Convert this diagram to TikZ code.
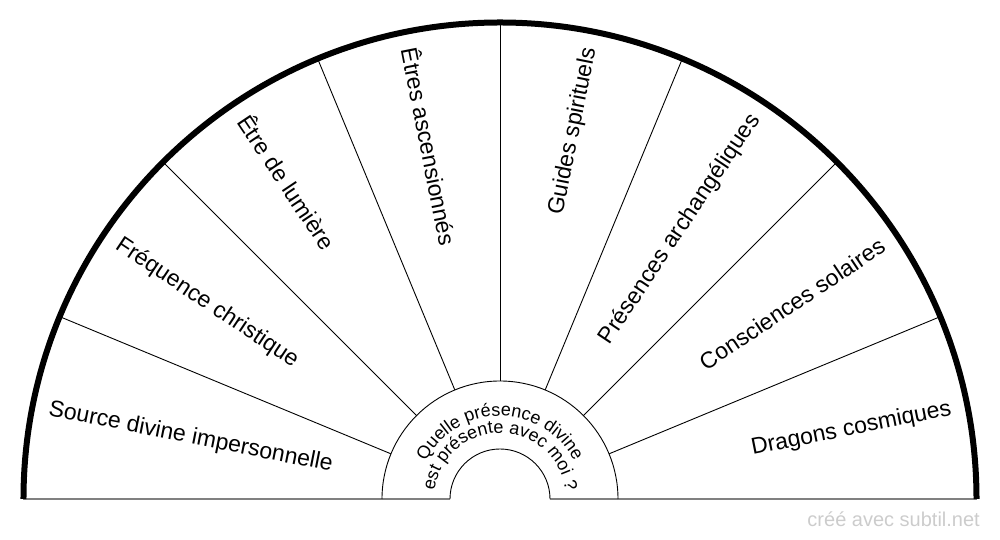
\documentclass[tikz,border=0pt]{standalone}
\usepackage{fontspec}
\setmainfont{Liberation Sans}
\usetikzlibrary{decorations.text}
\newcommand{\questfont}{\fontsize{18}{21}\selectfont}
\tikzset{x=1pt,y=1pt}
\tikzset{rim/.style={line width=6pt},
  spoke/.style={line width=0.9pt},
  sectortext/.style={font=\fontsize{23}{27}\selectfont, inner sep=0pt}}

\begin{document}
\begin{tikzpicture}
  \useasboundingbox (-500,-41) rectangle (500,499);
  \draw[black!50, line width=2pt] (-476.5,0)--(-50,0);
  \draw[black!50, line width=2pt] (50,0)--(476.5,0);
  \draw[rim] (180:476.5) arc[start angle=180, end angle=0, radius=476.5];
  \draw[spoke] (180:118) arc[start angle=180, end angle=0, radius=118];
  \draw[spoke] (180:50) arc[start angle=180, end angle=0, radius=50];

  \foreach \a in {1,...,7}{
               \draw[spoke] ({\a*22.5}:118)--({\a*22.5}:476.5);
};

  % left half, read from the rim inwards
  \foreach \t [count=\i] in {Source divine impersonnelle, Fréquence christique, Être de lumière, Êtres ascensionnés}{
               \node[sectortext, anchor=west, rotate={11.25-22.5*\i}] (left\i) at ({191.25-22.5*\i}:460) {\t};
};
  % right half, read outwards
  \foreach \t [count=\i] in {Guides spirituels, Présences archangéliques, Consciences solaires, Dragons cosmiques}{
               \node[sectortext, anchor=east, rotate={101.25-22.5*\i}] (right\i) at ({101.25-22.5*\i}:460) {\t};
};

  \path[decorate, decoration={text along path, text align=center, text={|\questfont|Quelle présence divine}}]
    (178:83) arc[start angle=178, end angle=2, radius=83];
  \path[decorate, decoration={text along path, text align=center, text={|\questfont|est présente avec moi ?}}]
    (179.5:66) arc[start angle=179.5, end angle=0.5, radius=66];

  \node[anchor=base east, inner sep=0pt, text=black!20, font=\fontsize{20}{23}\selectfont] (credit) at (480,-28) {créé avec subtil.net};
\end{tikzpicture}
\end{document}
